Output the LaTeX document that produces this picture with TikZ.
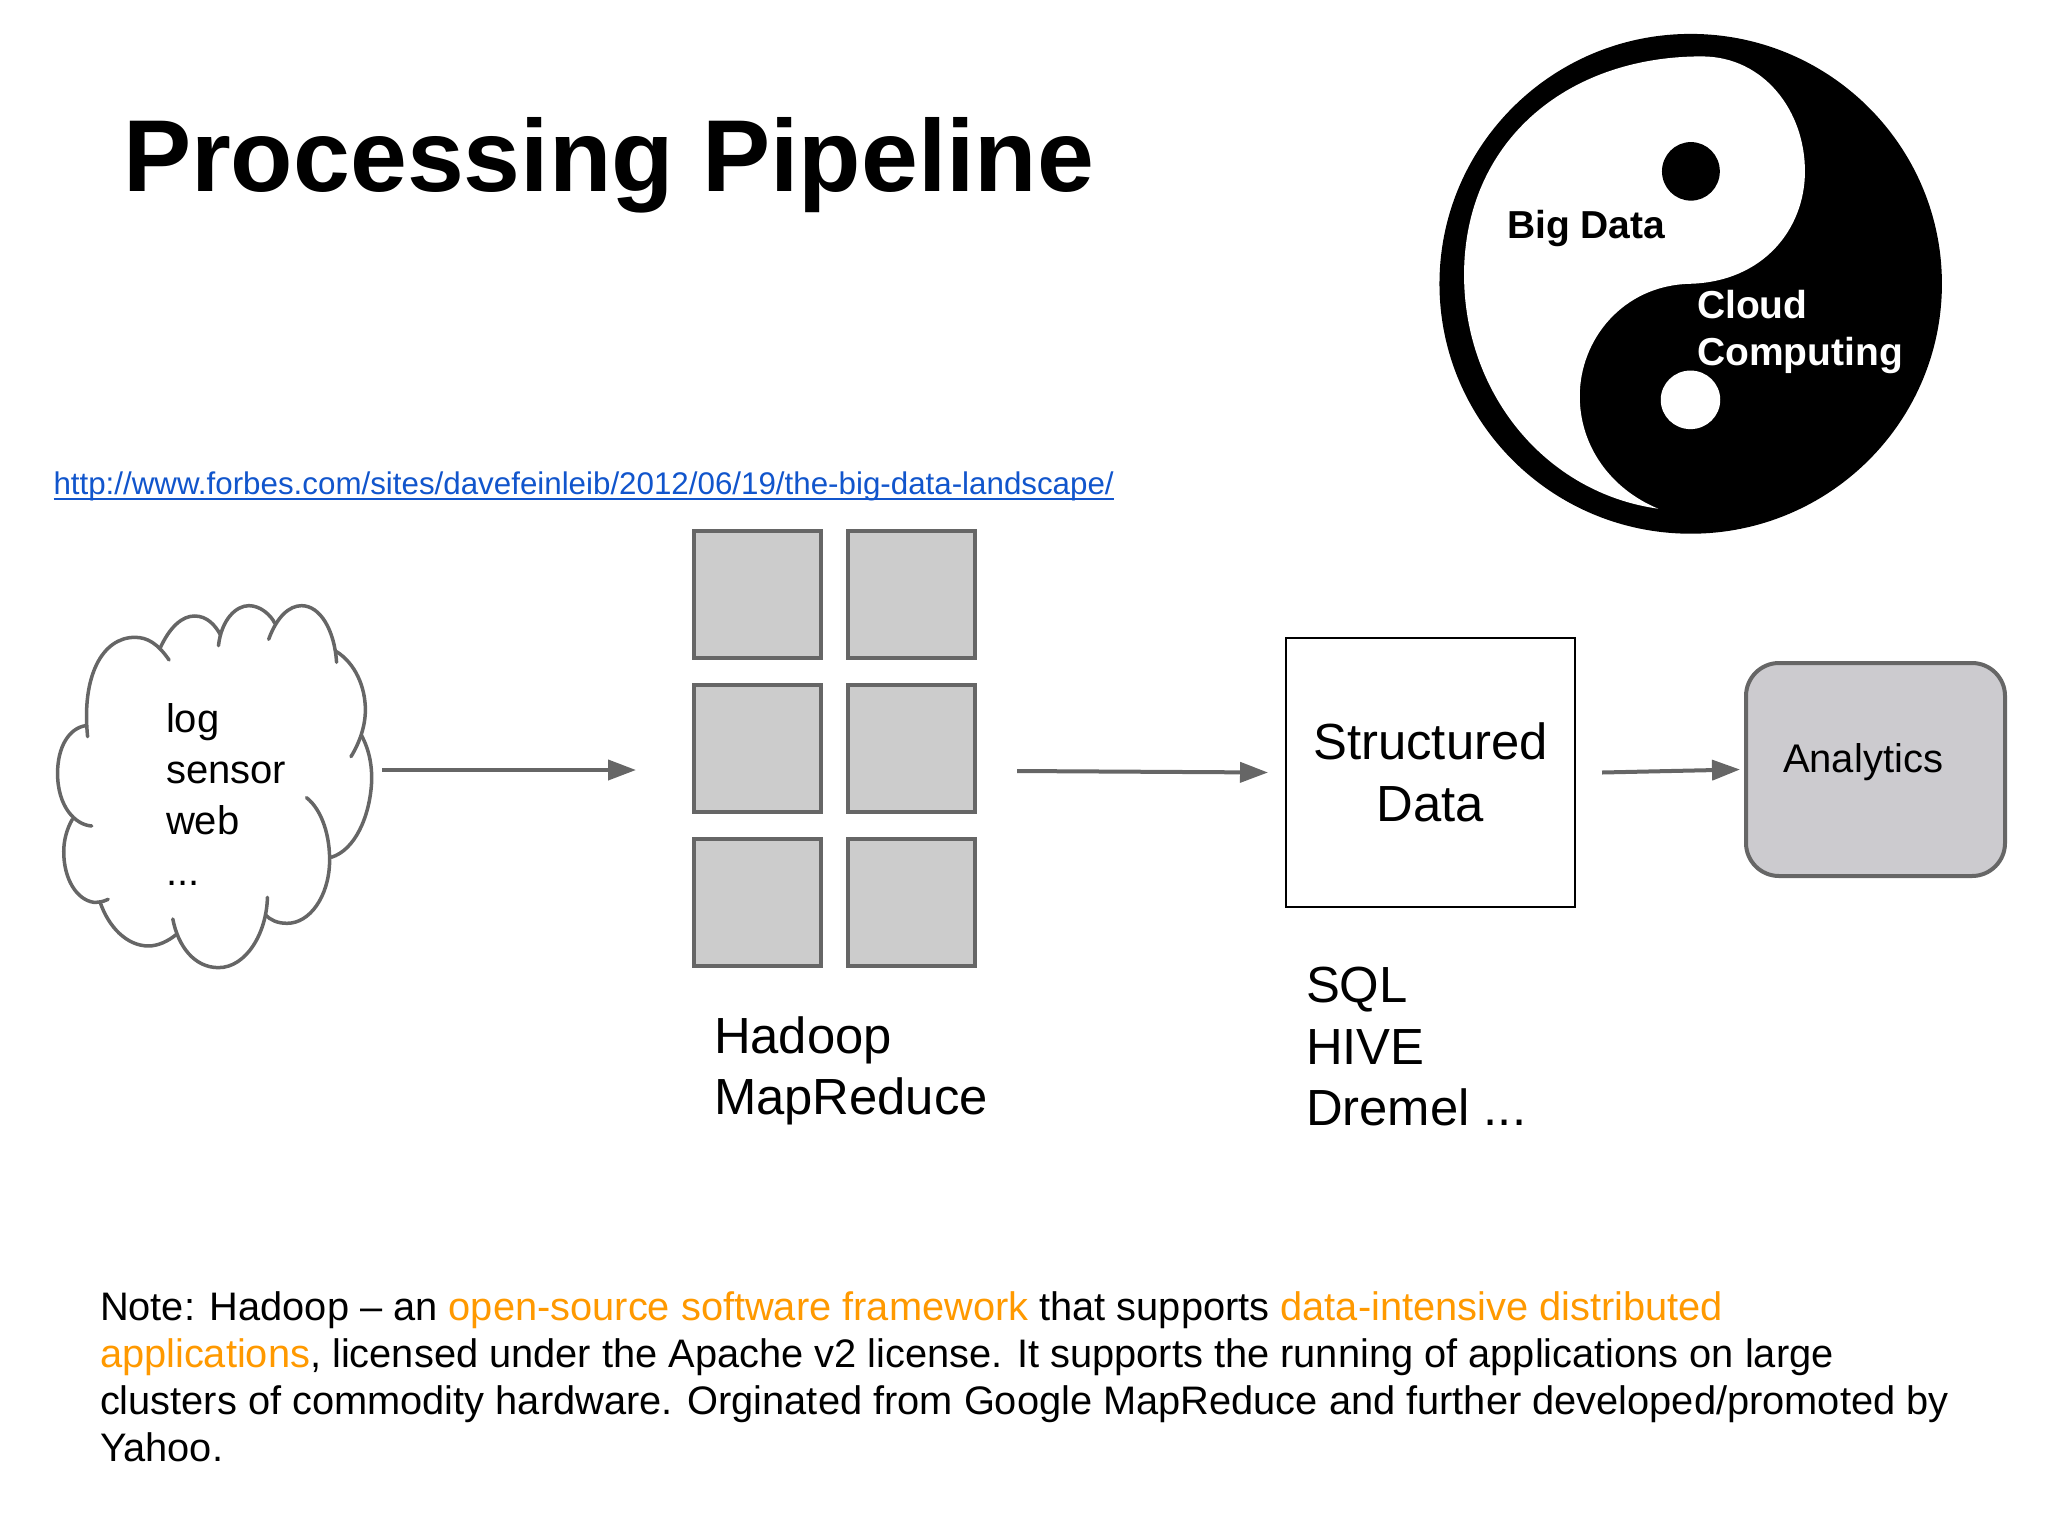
\documentclass[tikz,border=0pt]{standalone}
\usepackage{fontspec}
\setmainfont{Liberation Sans}
\usetikzlibrary{arrows.meta}
\definecolor{stk}{HTML}{666666}
\definecolor{sqfill}{HTML}{CCCCCC}
\definecolor{anfill}{HTML}{CCCBCF}
\definecolor{linkc}{HTML}{1155CC}
\definecolor{orangec}{HTML}{FF9900}
\newcommand{\fs}[2]{\fontsize{#1pt}{#2pt}\selectfont}
\tikzset{
  txt/.style={anchor=base west,inner sep=0pt,outer sep=0pt},
  notet/.style={txt,font=\fs{19.9}{23.5}},
  cloudt/.style={txt,font=\fs{20}{25}},
  bigt/.style={txt,font=\fs{25.4}{30.5}},
  yyt/.style={txt,font=\bfseries\fs{19.5}{23.5}},
  sq/.style={draw=stk,fill=sqfill,line width=2pt,minimum width=63.5pt,minimum height=63.5pt,inner sep=0pt,outer sep=0pt},
  arr/.style={draw=stk,line width=2pt,-{Triangle[length=14pt,width=10pt,fill=stk]}},
  cloudline/.style={draw=stk,line width=1.75pt,line cap=round}
}
\begin{document}
\begin{tikzpicture}[x=0.5pt,y=-0.5pt]
\useasboundingbox (0,0) rectangle (2048,1536);
% title and link
\node[txt,font=\bfseries\fs{51.1}{60}] (title) at (123,191) {Processing Pipeline};
\node[txt,font=\fs{15.66}{18},text=linkc] (url) at (53.5,494) {http://www.forbes.com/sites/davefeinleib/2012/06/19/the-big-data-landscape/};
\draw[linkc,line width=0.9pt] ([yshift=-2.4pt]url.base west) -- ([yshift=-2.4pt]url.base east);
% yin yang
\begin{scope}[shift={(1400,0)},xscale=0.4132,yscale=0.357]
\fill[black] (703.5,795) ellipse [x radius=608,y radius=700];
\fill[white] (155,770) .. controls (155,400) and (400,158) .. (730,158)
  .. controls (880,158) and (980,310) .. (980,480)
  .. controls (980,640) and (880,790) .. (700,795)
  .. controls (540,800) and (435,950) .. (435,1110)
  .. controls (435,1250) and (510,1370) .. (625,1425)
  .. controls (350,1380) and (155,1100) .. (155,770) -- cycle;
\fill[black] (704,480) ellipse [x radius=70,y radius=82];
\fill[white] (703,1120) ellipse [x radius=72,y radius=82];
\end{scope}
\node[yyt] (bigdata) at (1507,238) {Big Data};
\node[yyt,text=white] (cloudw) at (1697,318) {Cloud};
\node[yyt,text=white] (computing) at (1697,365) {Computing};
% cloud
\begin{scope}[shift={(30,580)},xscale=0.4115,yscale=0.3333]
\draw[cloudline] (338,240) .. controls (310,190) and (285,172) .. (255,172) .. controls (175,172) and (125,290) .. (140,470);
\draw[cloudline] (316,205) .. controls (340,140) and (370,108) .. (400,108) .. controls (430,108) and (450,135) .. (463,165);
\draw[cloudline] (458,197) .. controls (465,120) and (500,77) .. (532,77) .. controls (560,77) and (585,105) .. (595,130);
\draw[cloudline] (580,178) .. controls (600,110) and (630,77) .. (660,77) .. controls (705,77) and (740,150) .. (745,247);
\draw[cloudline] (745,215) .. controls (790,250) and (815,320) .. (815,390) .. controls (815,440) and (800,490) .. (780,530);
\draw[cloudline] (805,465) .. controls (825,510) and (832,560) .. (830,610) .. controls (825,710) and (790,810) .. (732,832);
\draw[cloudline] (672,653) .. controls (710,690) and (730,770) .. (728,850) .. controls (725,950) and (680,1030) .. (625,1030) .. controls (600,1030) and (585,1020) .. (572,1005);
\draw[cloudline] (577,952) .. controls (575,1060) and (525,1163) .. (458,1163) .. controls (400,1163) and (360,1100) .. (347,1017);
\draw[cloudline] (357,1062) .. controls (335,1085) and (310,1098) .. (288,1098) .. controls (235,1098) and (190,1040) .. (170,965);
\draw[cloudline] (190,958) .. controls (175,967) and (165,967) .. (155,967) .. controls (115,960) and (82,900) .. (82,815) .. controls (82,780) and (90,745) .. (103,718);
\draw[cloudline] (150,738) .. controls (110,735) and (67,680) .. (67,580) .. controls (67,500) and (95,445) .. (135,437);
\end{scope}
\node[cloudt] (clog) at (166,732) {log};
\node[cloudt] (csensor) at (166,783) {sensor};
\node[cloudt] (cweb) at (166,834) {web};
\node[cloudt] (cdots) at (166,885) {...};
% hadoop grid
\node[sq] (g11) at (757.5,594.5) {};
\node[sq] (g12) at (911.5,594.5) {};
\node[sq] (g21) at (757.5,748.5) {};
\node[sq] (g22) at (911.5,748.5) {};
\node[sq] (g31) at (757.5,902.5) {};
\node[sq] (g32) at (911.5,902.5) {};
\node[bigt] (hadoop) at (714,1053) {Hadoop};
\node[bigt] (mapreduce) at (714,1114) {MapReduce};
% structured data
\node[draw=black,fill=white,line width=1pt,minimum width=144.5pt,minimum height=134.5pt,inner sep=0pt,outer sep=0pt,align=center,font=\fs{25.4}{31}] (sd) at (1430.5,772.5) {Structured\\Data};
\node[bigt] (sql) at (1306,1002) {SQL};
\node[bigt] (hive) at (1306,1064) {HIVE};
\node[bigt] (dremel) at (1306,1125) {Dremel ...};
% analytics
\node[draw=stk,fill=anfill,line width=2pt,rounded corners=16.5pt,minimum width=129.5pt,minimum height=106.5pt,inner sep=0pt,outer sep=0pt] (an) at (1875.5,769.5) {};
\node[txt,font=\fs{20}{24}] (antext) at (1783,772) {Analytics};
% connectors
\coordinate (a1s) at (382,770);
\coordinate (a1e) at (636,770);
\coordinate (a2s) at (1017,771);
\draw[arr] (a1s) -- (a1e);
\draw[arr] (a2s) -- ([xshift=-9pt]sd.west);
\draw[arr] ([xshift=13.5pt]sd.east) -- ([xshift=-3pt]an.west);
% note
\node[notet] (n1) at (100,1320) {Note: Hadoop -- an \textcolor{orangec}{open-source software framework} that supports \textcolor{orangec}{data-intensive distributed}};
\node[notet] (n2) at (100,1367) {\textcolor{orangec}{applications}, licensed under the Apache v2 license. It supports the running of applications on large};
\node[notet] (n3) at (100,1414) {clusters of commodity hardware. Orginated from Google MapReduce and further developed/promoted by};
\node[notet] (n4) at (100,1461) {Yahoo.};
\end{tikzpicture}
\end{document}
